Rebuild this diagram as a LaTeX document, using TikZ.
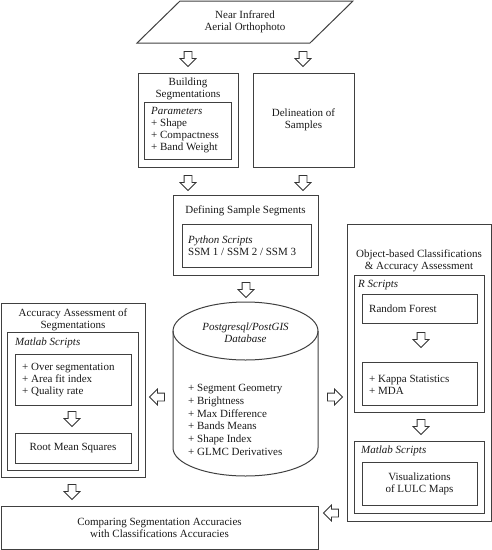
\documentclass[tikz,border=0pt]{standalone}
\usepackage{fontspec}
\setmainfont{Liberation Serif}[Scale=1.1]
\usetikzlibrary{shapes.arrows}

\begin{document}
\begin{tikzpicture}[x=1pt,y=1pt,
        box/.style={draw=black!75,line width=1pt,inner sep=0pt,text=black!90},
        txt/.style={align=center,inner sep=0pt,text=black!90},
        lst/.style={align=left,inner sep=0pt,text=black!90},
        blockarr/.style={single arrow,draw=black!80,line width=.8pt,fill=white,
            minimum height=15pt,inner sep=3.5pt,single arrow head extend=4pt},
        arrdown/.style={blockarr,shape border rotate=270},
        arrleft/.style={blockarr,shape border rotate=180},
        arrright/.style={blockarr,shape border rotate=0}]
        \useasboundingbox (0,0) rectangle (492,-550);
        % input photo
        \draw[box] (180,-1) -- (353,-1) -- (310,-43) -- (137,-43) -- cycle;
        \node[txt] (photo) at (245,-22) {Near Infrared\\Aerial Orthophoto};
        \node[arrdown] (a1) at (188,-57) {};
        \node[arrdown] (a2) at (303,-57) {};
        % segmentation and samples
        \node[box,minimum width=100pt,minimum height=94pt] (build) at (188,-120) {};
        \node[txt] (buildt) at (188,-89) {Building\\Segmentations};
        \node[box,minimum width=87pt,minimum height=57pt] (buildp) at (187.5,-130.5) {};
        \node[lst,anchor=west] (buildpt) at (151,-130) {\textit{Parameters}\\+ Shape\\+ Compactness\\+ Band Weight};
        \node[box,minimum width=101pt,minimum height=94pt,align=center] (delin) at (303.5,-120) {Delineation of\\Samples};
        \node[arrdown] (a3) at (188,-181) {};
        \node[arrdown] (a4) at (303,-181) {};
        \node[box,minimum width=145pt,minimum height=80pt] (defseg) at (245.5,-235) {};
        \node[txt] (defsegt) at (245.5,-211) {Defining Sample Segments};
        \node[box,minimum width=129pt,minimum height=43pt] (pyscr) at (246.5,-245.5) {};
        \node[lst,anchor=west] (pyscrt) at (188,-246) {\textit{Python Scripts}\\SSM 1 / SSM 2 / SSM 3};
        \node[arrdown] (a5) at (246,-288) {};
        % database
        \draw[box] (173,-331) -- (173,-448) arc[start angle=180,end angle=360,x radius=72.5,y radius=28] -- (318,-331);
        \draw[box] (245.5,-331) ellipse[x radius=72.5,y radius=29];
        \node[txt,font=\itshape] (dbt) at (245.5,-333) {Postgresql/PostGIS\\Database};
        \node[lst,anchor=west,font=\fontsize{10}{12.8}\selectfont] (dbl) at (188,-420) {+ Segment Geometry\\+ Brightness\\+ Max Difference\\+ Bands Means\\+ Shape Index\\+ GLMC Derivatives};
        \node[arrleft] (a6) at (159,-397) {};
        \node[arrright] (a7) at (333,-397) {};
        % segmentation accuracy
        \node[box,minimum width=144pt,minimum height=174pt] (accseg) at (73,-390) {};
        \node[txt] (accsegt) at (73,-320) {Accuracy Assessment of\\Segmentations};
        \node[box,minimum width=131pt,minimum height=138pt] (accmat) at (72.5,-401) {};
        \node[lst,anchor=west,font=\itshape] (accmatt) at (15,-343) {Matlab Scripts};
        \node[box,minimum width=116pt,minimum height=51pt] (accidx) at (73,-379.5) {};
        \node[lst,anchor=west] (accidxt) at (22,-380) {+ Over segmentation\\+ Area fit index\\+ Quality rate};
        \node[arrdown] (a8) at (72,-417) {};
        \node[box,minimum width=116pt,minimum height=30pt] (rms) at (73,-448) {Root Mean Squares};
        \node[arrdown] (a9) at (72,-490) {};
        % classification
        \node[box,minimum width=144pt,minimum height=297pt] (cls) at (419,-372.5) {};
        \node[txt] (clst) at (419,-260.5) {Object-based Classifications\\\& Accuracy Assessment};
        \node[box,minimum width=130pt,minimum height=137pt] (rscr) at (419,-343.5) {};
        \node[lst,anchor=west,font=\itshape] (rscrt) at (358,-285) {R Scripts};
        \node[box,minimum width=115pt,minimum height=29pt] (rf) at (419.5,-308.5) {};
        \node[lst,anchor=west] (rft) at (369,-309) {Random Forest};
        \node[arrdown] (a10) at (421,-338) {};
        \node[box,minimum width=115pt,minimum height=43pt] (kappa) at (419.5,-383.5) {};
        \node[lst,anchor=west] (kappat) at (369,-384.5) {+ Kappa Statistics\\+ MDA};
        \node[arrdown] (a11) at (421,-425) {};
        \node[box,minimum width=130pt,minimum height=72pt] (matscr) at (419,-477) {};
        \node[lst,anchor=west,font=\itshape] (matscrt) at (361,-451) {Matlab Scripts};
        \node[box,minimum width=115pt,minimum height=43pt,align=center] (vis) at (419.5,-483.5) {Visualizations\\of LULC Maps};
        % comparison
        \node[box,minimum width=317pt,minimum height=43pt,align=center] (cmp) at (159.5,-527.5) {Comparing Segmentation Accuracies\\with Classifications Accuracies};
        \node[arrleft] (a12) at (333,-513) {};
    \end{tikzpicture}
\end{document}
